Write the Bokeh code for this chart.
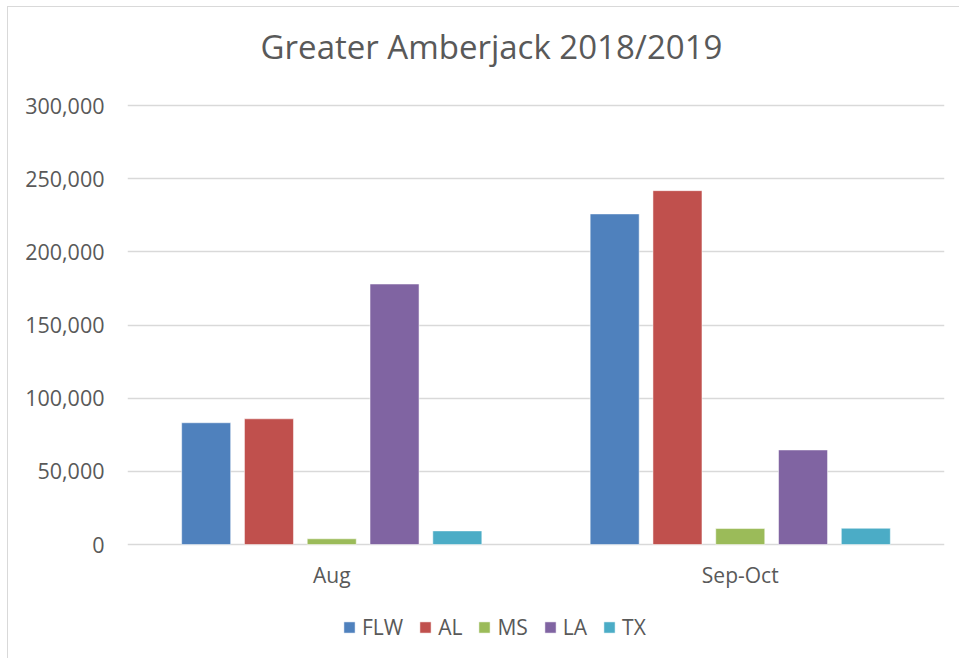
from bokeh.plotting import figure
from bokeh.models import (FactorRange, Range1d, FixedTicker, NumeralTickFormatter,
                          Legend, LegendItem, ColumnDataSource, Label)
from bokeh.transform import dodge
from bokeh.embed import file_html
from bokeh.resources import INLINE

title_text = "Greater Amberjack 2018/2019"
periods = ["Aug", "Sep-Oct"]
series = ["FLW", "AL", "MS", "LA", "TX"]
flw = [83200, 225900]
al = [85900, 241800]
ms = [3900, 10900]
la = [178000, 64600]
tx = [9300, 11100]
y_ticks = [0, 50000, 100000, 150000, 200000, 250000, 300000]
colors = ["#4F81BD", "#C0504D", "#9BBB59", "#8064A2", "#4BACC6"]

values = {"FLW": flw, "AL": al, "MS": ms, "LA": la, "TX": tx}
src = ColumnDataSource(dict(period=periods, **values))

FONT = "Open Sans"
TXT = "#595959"
GRID = "#D9D9D9"

# frame spans the full canvas height; value axis 0..300k occupies 439 px of it
H = 652
top_px, bottom_px = 98, 115          # canvas px above 300k and below 0
ymax = y_ticks[-1]
per_px = ymax / (H - top_px - bottom_px)
y_range = Range1d(-bottom_px * per_px, ymax + top_px * per_px)

p = figure(x_range=FactorRange(*periods, range_padding=0), y_range=y_range,
           width=952, height=H, output_backend="svg", toolbar_location=None,
           min_border_left=119, min_border_right=16, min_border_top=0,
           min_border_bottom=0, background_fill_color="white",
           border_fill_color="white",
           styles={"margin-left": "7px", "margin-top": "6px",
                   "border-left": "1px solid #D9D9D9", "border-top": "1px solid #D9D9D9"})
p.outline_line_color = None

step = 0.1537
bw = 0.12
renderers = []
for i, (name, col) in enumerate(zip(series, colors)):
    off = (i - 2) * step
    r = p.vbar(x=dodge("period", off, range=p.x_range), top=name, bottom=0, width=bw,
               source=src, fill_color=col, line_color="white", line_alpha=0.5, line_width=1)
    renderers.append((name, r))

# axes
for ax in (p.xaxis[0], p.yaxis[0]):
    ax.axis_line_color = None
    ax.major_tick_line_color = None
    ax.minor_tick_line_color = None
    ax.major_tick_out = 0
    ax.major_tick_in = 0
    ax.minor_tick_out = 0
    ax.minor_tick_in = 0
    ax.major_label_text_font = FONT
    ax.major_label_text_color = TXT

p.yaxis.ticker = FixedTicker(ticks=y_ticks)
p.yaxis.formatter = NumeralTickFormatter(format="0,0")
p.yaxis.major_label_standoff = 23
p.yaxis.major_label_text_font_size = "21.5px"
p.xaxis.fixed_location = 0
p.xaxis.major_label_standoff = 16
p.xaxis.major_label_text_font_size = "21px"

p.xgrid.grid_line_color = None
p.ygrid.grid_line_color = GRID
p.ygrid.grid_line_width = 1.5
p.ygrid.ticker = FixedTicker(ticks=y_ticks)

# title (screen units relative to frame bottom-left)
title = Label(x=364, y=613, x_units="screen", y_units="screen", text=title_text,
              text_font=FONT, text_font_size="33px", text_color=TXT,
              text_align="center", text_baseline="alphabetic")
p.add_layout(title)

legend = Legend(items=[LegendItem(label=n, renderers=[r]) for n, r in renderers],
                orientation="horizontal", location=(215, 18),
                label_text_font=FONT, label_text_font_size="21px",
                label_text_color=TXT, glyph_width=14, glyph_height=14,
                label_standoff=6, spacing=15, padding=0, margin=0,
                border_line_color=None, background_fill_alpha=0)
p.add_layout(legend, "center")

open("out.html", "w").write(file_html(p, INLINE))
